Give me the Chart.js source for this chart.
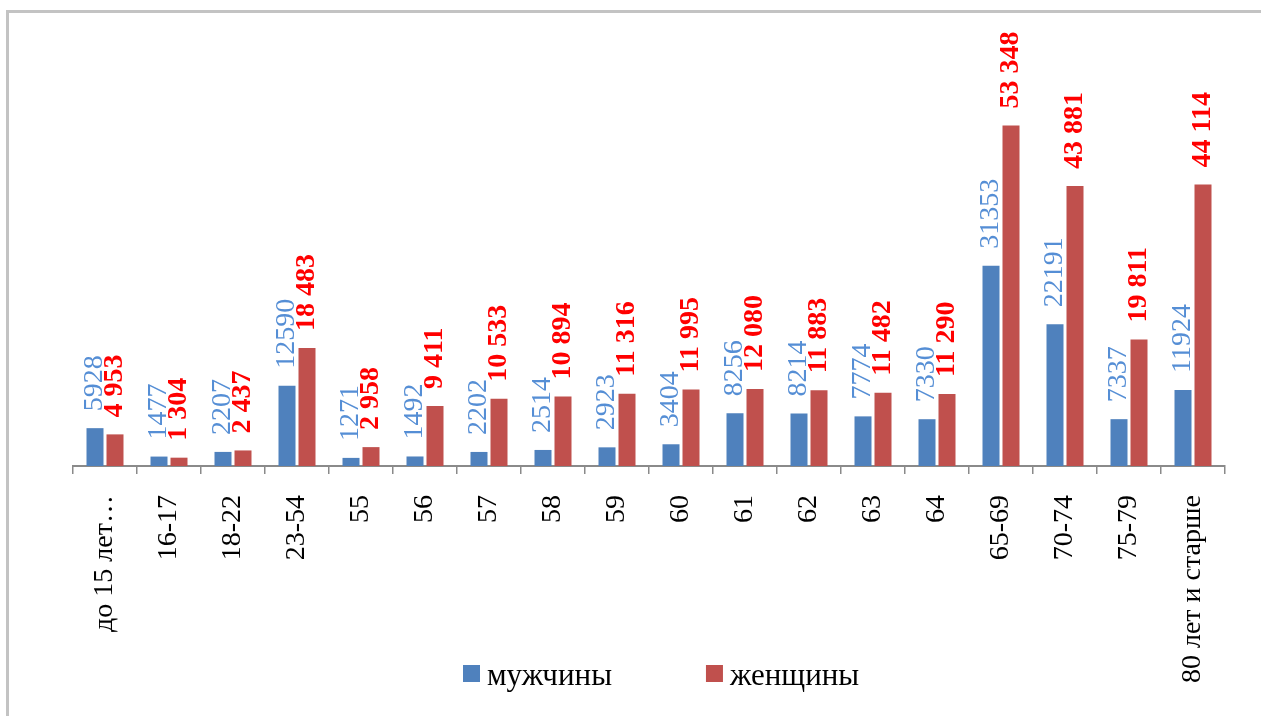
<!DOCTYPE html>
<html>
<head>
    <meta http-equiv="Content-Type" content="text/html; charset=UTF-8">
    <title>мужчины / женщины</title>
    <script src="https://cdn.jsdelivr.net/npm/chart.js@4.4.0/dist/chart.umd.min.js"></script>
    <style>
        body { margin: 0; background: #fff; }
        #wrap { position: relative; width: 1261px; height: 716px; }
        #frame { position: absolute; left: 6px; top: 10px; right: 0; bottom: 0;
                 border-left: 3px solid #c3c3c3; border-top: 3px solid #c3c3c3; }
        canvas { position: absolute; left: 0; top: 0; }
    </style>
    <script>
        // данные
        const categories = ["до 15 лет…", "16-17", "18-22", "23-54", "55", "56", "57", "58", "59", "60",
            "61", "62", "63", "64", "65-69", "70-74", "75-79", "80 лет и старше"];
        const men = [5928, 1477, 2207, 12590, 1271, 1492, 2202, 2514, 2923, 3404,
            8256, 8214, 7774, 7330, 31353, 22191, 7337, 11924];
        const women = [4953, 1304, 2437, 18483, 2958, 9411, 10533, 10894, 11316, 11995,
            12080, 11883, 11482, 11290, 53348, 43881, 19811, 44114];
        const seriesNames = ["мужчины", "женщины"];

        const SERIF = "'Liberation Serif', 'Times New Roman', serif";

        function spaced(v) {
            return String(v).replace(/\B(?=(\d{3})+(?!\d))/g, ' ');
        }

        // подписи значений над столбцами (повёрнутые)
        const valueLabels = {
            id: 'valueLabels',
            afterDatasetsDraw(chart) {
                const ctx = chart.ctx;
                chart.data.datasets.forEach((ds, i) => {
                    const meta = chart.getDatasetMeta(i);
                    meta.data.forEach((bar, j) => {
                        const v = ds.data[j];
                        ctx.save();
                        ctx.translate(bar.x, bar.y - 17);
                        ctx.rotate(-Math.PI / 2);
                        ctx.font = (i === 1 ? 'bold ' : '') + '28px ' + SERIF;
                        ctx.fillStyle = i === 1 ? '#ff0000' : '#558ed5';
                        ctx.textAlign = 'left';
                        ctx.textBaseline = 'middle';
                        ctx.fillText(i === 1 ? spaced(v) : String(v), 0, 0);
                        ctx.restore();
                    });
                });
            }
        };

        // легенда внизу
        const bottomLegend = {
            id: 'bottomLegend',
            afterDraw(chart) {
                const ctx = chart.ctx;
                ctx.save();
                ctx.font = '31px ' + SERIF;
                ctx.textBaseline = 'alphabetic';
                let x = 463;
                chart.data.datasets.forEach((ds) => {
                    ctx.fillStyle = ds.backgroundColor;
                    ctx.fillRect(x, 665, 17, 17);
                    ctx.fillStyle = '#000';
                    ctx.fillText(ds.label, x + 24, 685);
                    x += 24 + ctx.measureText(ds.label).width + 94;
                });
                ctx.restore();
            }
        };

        window.onload = function () {
            const ctx = document.getElementById('chart');
            new Chart(ctx, {
                type: 'bar',
                data: {
                    labels: categories,
                    datasets: [
                        { label: seriesNames[0], data: men, backgroundColor: '#4f81bd' },
                        { label: seriesNames[1], data: women, backgroundColor: '#c0504d' }
                    ]
                },
                options: {
                    responsive: false,
                    animation: false,
                    events: [],
                    categoryPercentage: 0.625,
                    barPercentage: 0.85,
                    layout: { padding: { left: 73, right: 36, top: 83, bottom: 0 } },
                    plugins: {
                        legend: { display: false },
                        tooltip: { enabled: false }
                    },
                    scales: {
                        x: {
                            afterFit: function (scale) { scale.height = 250; },
                            grid: { display: true, drawOnChartArea: false, offset: true,
                                    tickLength: 8, color: '#8a8a8a', lineWidth: 1.5 },
                            border: { display: true, color: '#8a8a8a', width: 2 },
                            ticks: {
                                autoSkip: false, maxRotation: 90, minRotation: 90,
                                padding: 21, color: '#000',
                                font: { family: SERIF, size: 28 }
                            }
                        },
                        y: {
                            display: false,
                            min: 0,
                            max: 60000
                        }
                    }
                },
                plugins: [valueLabels, bottomLegend]
            });
        };
    </script>
</head>
<body>
    <div id="wrap">
        <div id="frame"></div>
        <canvas id="chart" width="1261" height="716"></canvas>
    </div>
</body>
</html>
